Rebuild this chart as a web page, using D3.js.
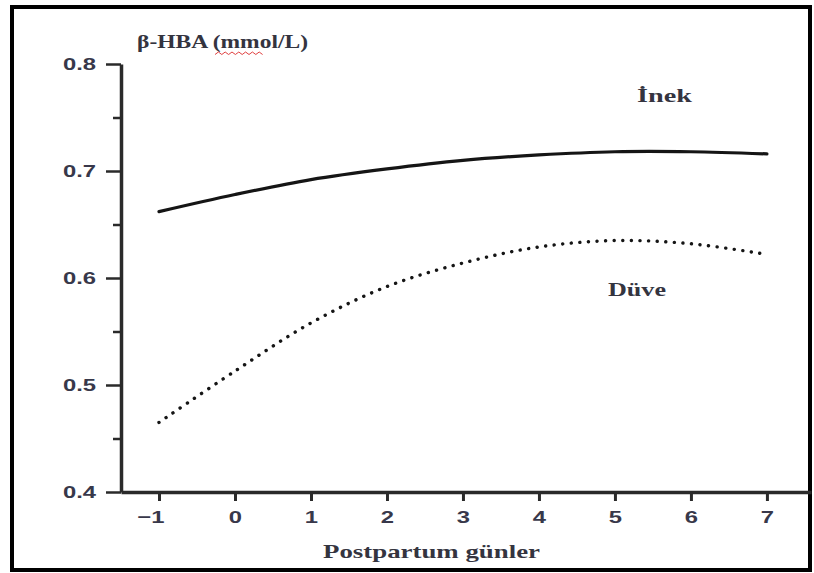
<!DOCTYPE html>
<html>
<head>
<meta charset="utf-8">
<style>
  body { margin: 0; background: #fff; }
  .tick text { font-family: "Liberation Sans", Arial, sans-serif; font-weight: bold; font-size: 17px; fill: #38384a; }
  .lbl { font-family: "Liberation Serif", "Times New Roman", serif; font-weight: bold; fill: #34343f; }
</style>
</head>
<body>
<svg id="chart" width="814" height="573"></svg>
<script src="https://cdn.jsdelivr.net/npm/d3@7"></script>
<script>
// data
var days = [-1, 0, 1, 2, 3, 4, 5, 6, 7];
var inek = [0.662, 0.678, 0.692, 0.702, 0.710, 0.715, 0.718, 0.718, 0.716];
var duve = [0.465, 0.513, 0.558, 0.592, 0.614, 0.629, 0.635, 0.632, 0.622];
var yTicks = [0.4, 0.5, 0.6, 0.7, 0.8];
var yMinor = [0.45, 0.55, 0.65, 0.75];

// the picture is stretched sideways, so the glyphs are too
var stretch = 1.4;

var svg = d3.select('#chart');

// frame
svg.append('rect')
  .attr('x', 12).attr('y', 7)
  .attr('width', 798).attr('height', 563)
  .attr('fill', 'none').attr('stroke', '#000').attr('stroke-width', 4);

var x = d3.scaleLinear().domain([-1.5, 7.58]).range([121, 811]);
var y = d3.scaleLinear().domain([0.4, 0.8]).range([492, 64]);

// y axis
var yAxis = svg.append('g')
  .attr('transform', 'translate(121,0)')
  .call(d3.axisLeft(y).tickValues(yTicks).tickFormat(d3.format('.1f')).tickSize(15).tickSizeOuter(0));
yAxis.select('.domain').attr('stroke', '#2a2a2a').attr('stroke-width', 3.5);
yAxis.selectAll('.tick line').attr('stroke', '#2a2a2a').attr('stroke-width', 2.5);
yAxis.selectAll('.tick text')
  .attr('x', -25 / stretch)
  .attr('transform', 'scale(' + stretch + ',1)');

svg.append('g')
  .attr('transform', 'translate(121,0)')
  .call(d3.axisLeft(y).tickValues(yMinor).tickFormat('').tickSize(8).tickSizeOuter(0))
  .call(g => g.select('.domain').remove())
  .selectAll('.tick line').attr('stroke', '#2a2a2a').attr('stroke-width', 2.5);

// x axis
var xAxis = svg.append('g')
  .attr('transform', 'translate(0,492)')
  .call(d3.axisBottom(x).tickValues(days).tickFormat(d => d < 0 ? '\u2212' + (-d) : d).tickSize(9).tickPadding(10).tickSizeOuter(0));
xAxis.select('.domain').attr('stroke', '#2a2a2a').attr('stroke-width', 3.5);
xAxis.selectAll('.tick line').attr('stroke', '#2a2a2a').attr('stroke-width', 3);
xAxis.selectAll('.tick text')
  .attr('transform', 'scale(' + stretch + ',1)')
  .attr('text-anchor', d => d < 0 ? 'end' : 'middle')
  .attr('x', d => d < 0 ? 5 / stretch : 0);

// lines
var line = d3.line()
  .x((d, i) => x(days[i]))
  .y(d => y(d))
  .curve(d3.curveCatmullRom);

svg.append('path')
  .datum(inek)
  .attr('d', line)
  .attr('fill', 'none')
  .attr('stroke', '#151515')
  .attr('stroke-width', 3.2)
  .attr('stroke-linecap', 'round');

svg.append('path')
  .datum(duve)
  .attr('d', line)
  .attr('fill', 'none')
  .attr('stroke', '#151515')
  .attr('stroke-width', 3.4)
  .attr('stroke-linecap', 'round')
  .attr('stroke-dasharray', '0.1 8.5');

// texts
function label(txt, x0, y0, size, w) {
  return svg.append('text').attr('class', 'lbl')
    .attr('x', x0).attr('y', y0)
    .style('font-size', size + 'px')
    .attr('textLength', w)
    .attr('lengthAdjust', 'spacingAndGlyphs')
    .text(txt);
}

label('\u03B2-HBA (mmol/L)', 137, 48, 18, 171);

// spell-check squiggle under "mmol"
var sq = d3.range(0, 15).map(i => [215 + i * 3.4, i % 2 ? 52 : 54.5]);
svg.append('path')
  .attr('d', d3.line()(sq))
  .attr('fill', 'none')
  .attr('stroke', '#e04040')
  .attr('stroke-width', 1);

label('\u0130nek', 637, 102, 19, 55);
label('D\u00FCve', 608, 296, 19, 58);
label('Postpartum g\u00FCnler', 323, 558, 19, 217);
</script>
</body>
</html>
